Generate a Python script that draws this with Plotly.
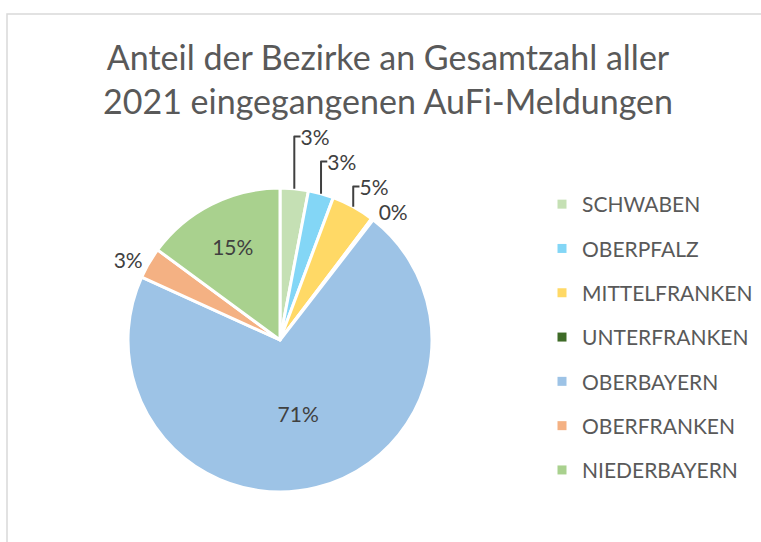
import plotly.graph_objects as go

# Bezirke in drawing order (clockwise from 12 o'clock)
bezirke = ["SCHWABEN", "OBERPFALZ", "MITTELFRANKEN", "UNTERFRANKEN",
           "OBERBAYERN", "OBERFRANKEN", "NIEDERBAYERN"]
anteile = [3.0, 2.7, 4.6, 0.2, 71.3, 3.3, 14.9]
farben = ["#C5E0B4", "#83D6F6", "#FFD966", "#3E6B27",
          "#9DC3E6", "#F4B183", "#A9D18E"]
label_pos = ["outside", "outside", "outside", "outside",
             "inside", "outside", "inside"]

FONT = "Lato"

fig = go.Figure()

fig.add_trace(go.Pie(
    labels=bezirke,
    values=anteile,
    sort=False,
    direction="clockwise",
    rotation=0,
    marker=dict(colors=farben, line=dict(color="white", width=3)),
    texttemplate="%{percent:.0%}",
    textposition=label_pos,
    insidetextorientation="horizontal",
    textfont=dict(family=FONT, size=21, color="#404040"),
    domain=dict(x=[128 / 761, 432 / 761], y=[50 / 542, 354 / 542]),
    showlegend=False,
    hoverinfo="label+percent",
))

# legend entries as separate groups so the vertical spacing can be set
for name, col in zip(bezirke, farben):
    fig.add_trace(go.Scatter(
        x=[None], y=[None], mode="markers", name=name, legendgroup=name,
        marker=dict(symbol="square", size=9, color=col),
    ))

fig.update_layout(
    width=761, height=542,
    paper_bgcolor="white", plot_bgcolor="white",
    margin=dict(l=0, r=0, t=0, b=0),
    title=dict(
        text="Anteil der Bezirke an Gesamtzahl aller<br>2021 eingegangenen AuFi-Meldungen",
        x=388 / 761, xanchor="center",
        y=1 - 70 / 542, yanchor="top",
        font=dict(family=FONT, size=34, color="#595959"),
    ),
    legend=dict(
        x=542 / 761, xanchor="left",
        y=1 - 184 / 542, yanchor="top",
        font=dict(family=FONT, size=21, color="#595959"),
        tracegroupgap=14,
        bgcolor="rgba(0,0,0,0)",
    ),
    xaxis=dict(visible=False),
    yaxis=dict(visible=False),
    shapes=[dict(
        type="rect", xref="paper", yref="paper",
        x0=7 / 761, x1=1.02, y0=-0.02, y1=1 - 14 / 542,
        line=dict(color="#D9D9D9", width=1.5),
        fillcolor="rgba(0,0,0,0)", layer="below",
    )],
)

fig.write_html("out.html", config={"displayModeBar": False},
               post_script="document.body.style.margin = '0';")
